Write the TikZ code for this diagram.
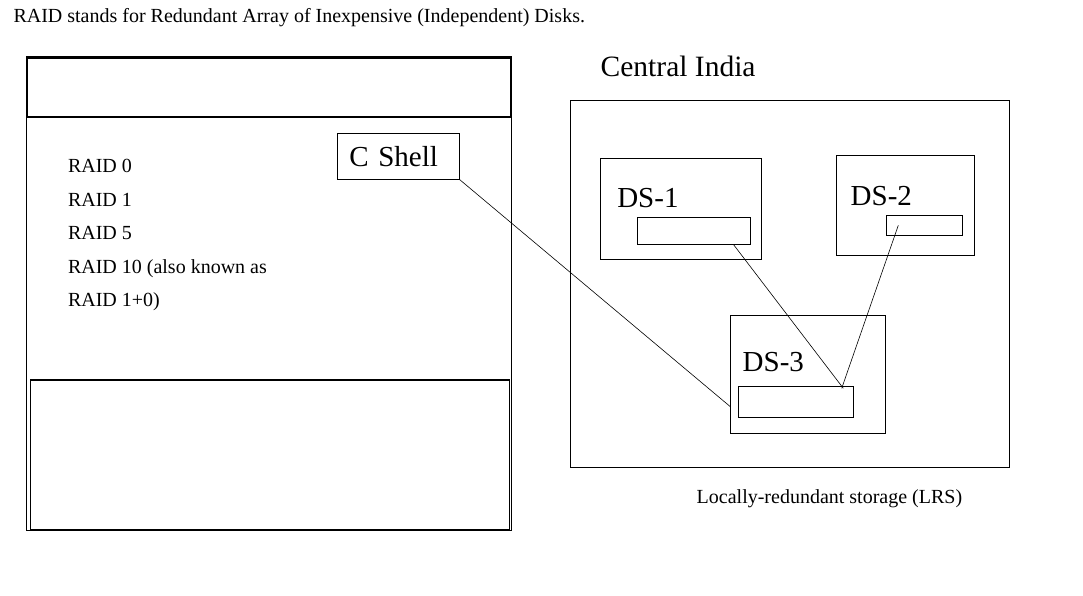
\documentclass[tikz,border=0pt]{standalone}
\usepackage{fontspec}
\setmainfont{Liberation Serif}
\usetikzlibrary{positioning, calc}

\begin{document}
\begin{tikzpicture}[
    x=1pt, y=-1pt, % one unit is one pixel of the screenshot, y grows downwards
    every node/.style={inner sep=0pt, outer sep=0pt},
    box/.style={draw, rectangle, anchor=north west, line width=1pt}, % plain frames
    heavy/.style={box, line width=1.6pt}, % the thicker frames on the left
    txt/.style={anchor=base west, font={\fontsize{20}{24}\selectfont}},
    big/.style={anchor=base west, font={\fontsize{29}{34}\selectfont}},
    link/.style={line width=0.6pt}
  ]

  \useasboundingbox (0,0) rectangle (1083,595);

  \node[txt] (title) at (13.5,22) {RAID stands for Redundant Array of Inexpensive (Independent) Disks.};

  % left panel
  \node[box, minimum width=485pt, minimum height=474pt] (panel) at (26.5,56.5) {};
  \node[heavy, minimum width=483pt, minimum height=59pt] (head) at (27.5,58) {};
  \node[heavy, minimum width=479pt, minimum height=150pt] (foot) at (30.3,379.7) {};

  \node[txt] (raid0) at (68,172.5) {RAID 0};
  \node[txt] (raid1) at (68,206) {RAID 1};
  \node[txt] (raid5) at (68,239.5) {RAID 5};
  \node[txt] (raid10) at (68,273) {RAID 10 (also known as};
  \node[txt] (raid10b) at (68,306) {RAID 1+0)};

  \node[box, minimum width=122pt, minimum height=46pt, inner xsep=12pt, text width=98pt, align=left,
        font={\fontsize{29}{34}\selectfont}] (cshell) at (337.3,133.3) {C Shell};

  % right panel
  \node[big, font={\fontsize{29.5}{35}\selectfont}] (region) at (600.7,76.7) {Central India};
  \node[box, minimum width=439.3pt, minimum height=367.3pt] (india) at (570,100) {};

  \node[box, minimum width=161pt, minimum height=101pt] (ds1) at (600.3,158.3) {};
  \node[box, minimum width=113.4pt, minimum height=27pt] (disk1) at (637.3,217.3) {};
  \node[big] (ds1lbl) at (617.3,207.3) {DS-1};

  \node[box, minimum width=138pt, minimum height=99.7pt] (ds2) at (836.3,155.3) {};
  \node[box, minimum width=76pt, minimum height=20pt] (disk2) at (886.3,215.3) {};
  \node[big] (ds2lbl) at (850.7,205.7) {DS-2};

  \node[box, minimum width=155pt, minimum height=117.7pt] (ds3) at (730.3,315.3) {};
  \node[box, minimum width=115.4pt, minimum height=31pt] (disk3) at (738.3,386.3) {};
  \node[big] (ds3lbl) at (742.7,371.7) {DS-3};

  \node[txt] (lrs) at (696.7,503.3) {Locally-redundant storage (LRS)};

  % connectors
  \draw[link] (cshell.south east) -- ([yshift=-32.5pt]ds3.west);
  \draw[link] ([xshift=39.3pt]disk1.south) -- ([xshift=47.3pt,yshift=-2pt]disk3.north);
  \draw[link] ([xshift=-26pt]disk2.center) -- ([xshift=45.7pt,yshift=-2pt]disk3.north);

\end{tikzpicture}
\end{document}
